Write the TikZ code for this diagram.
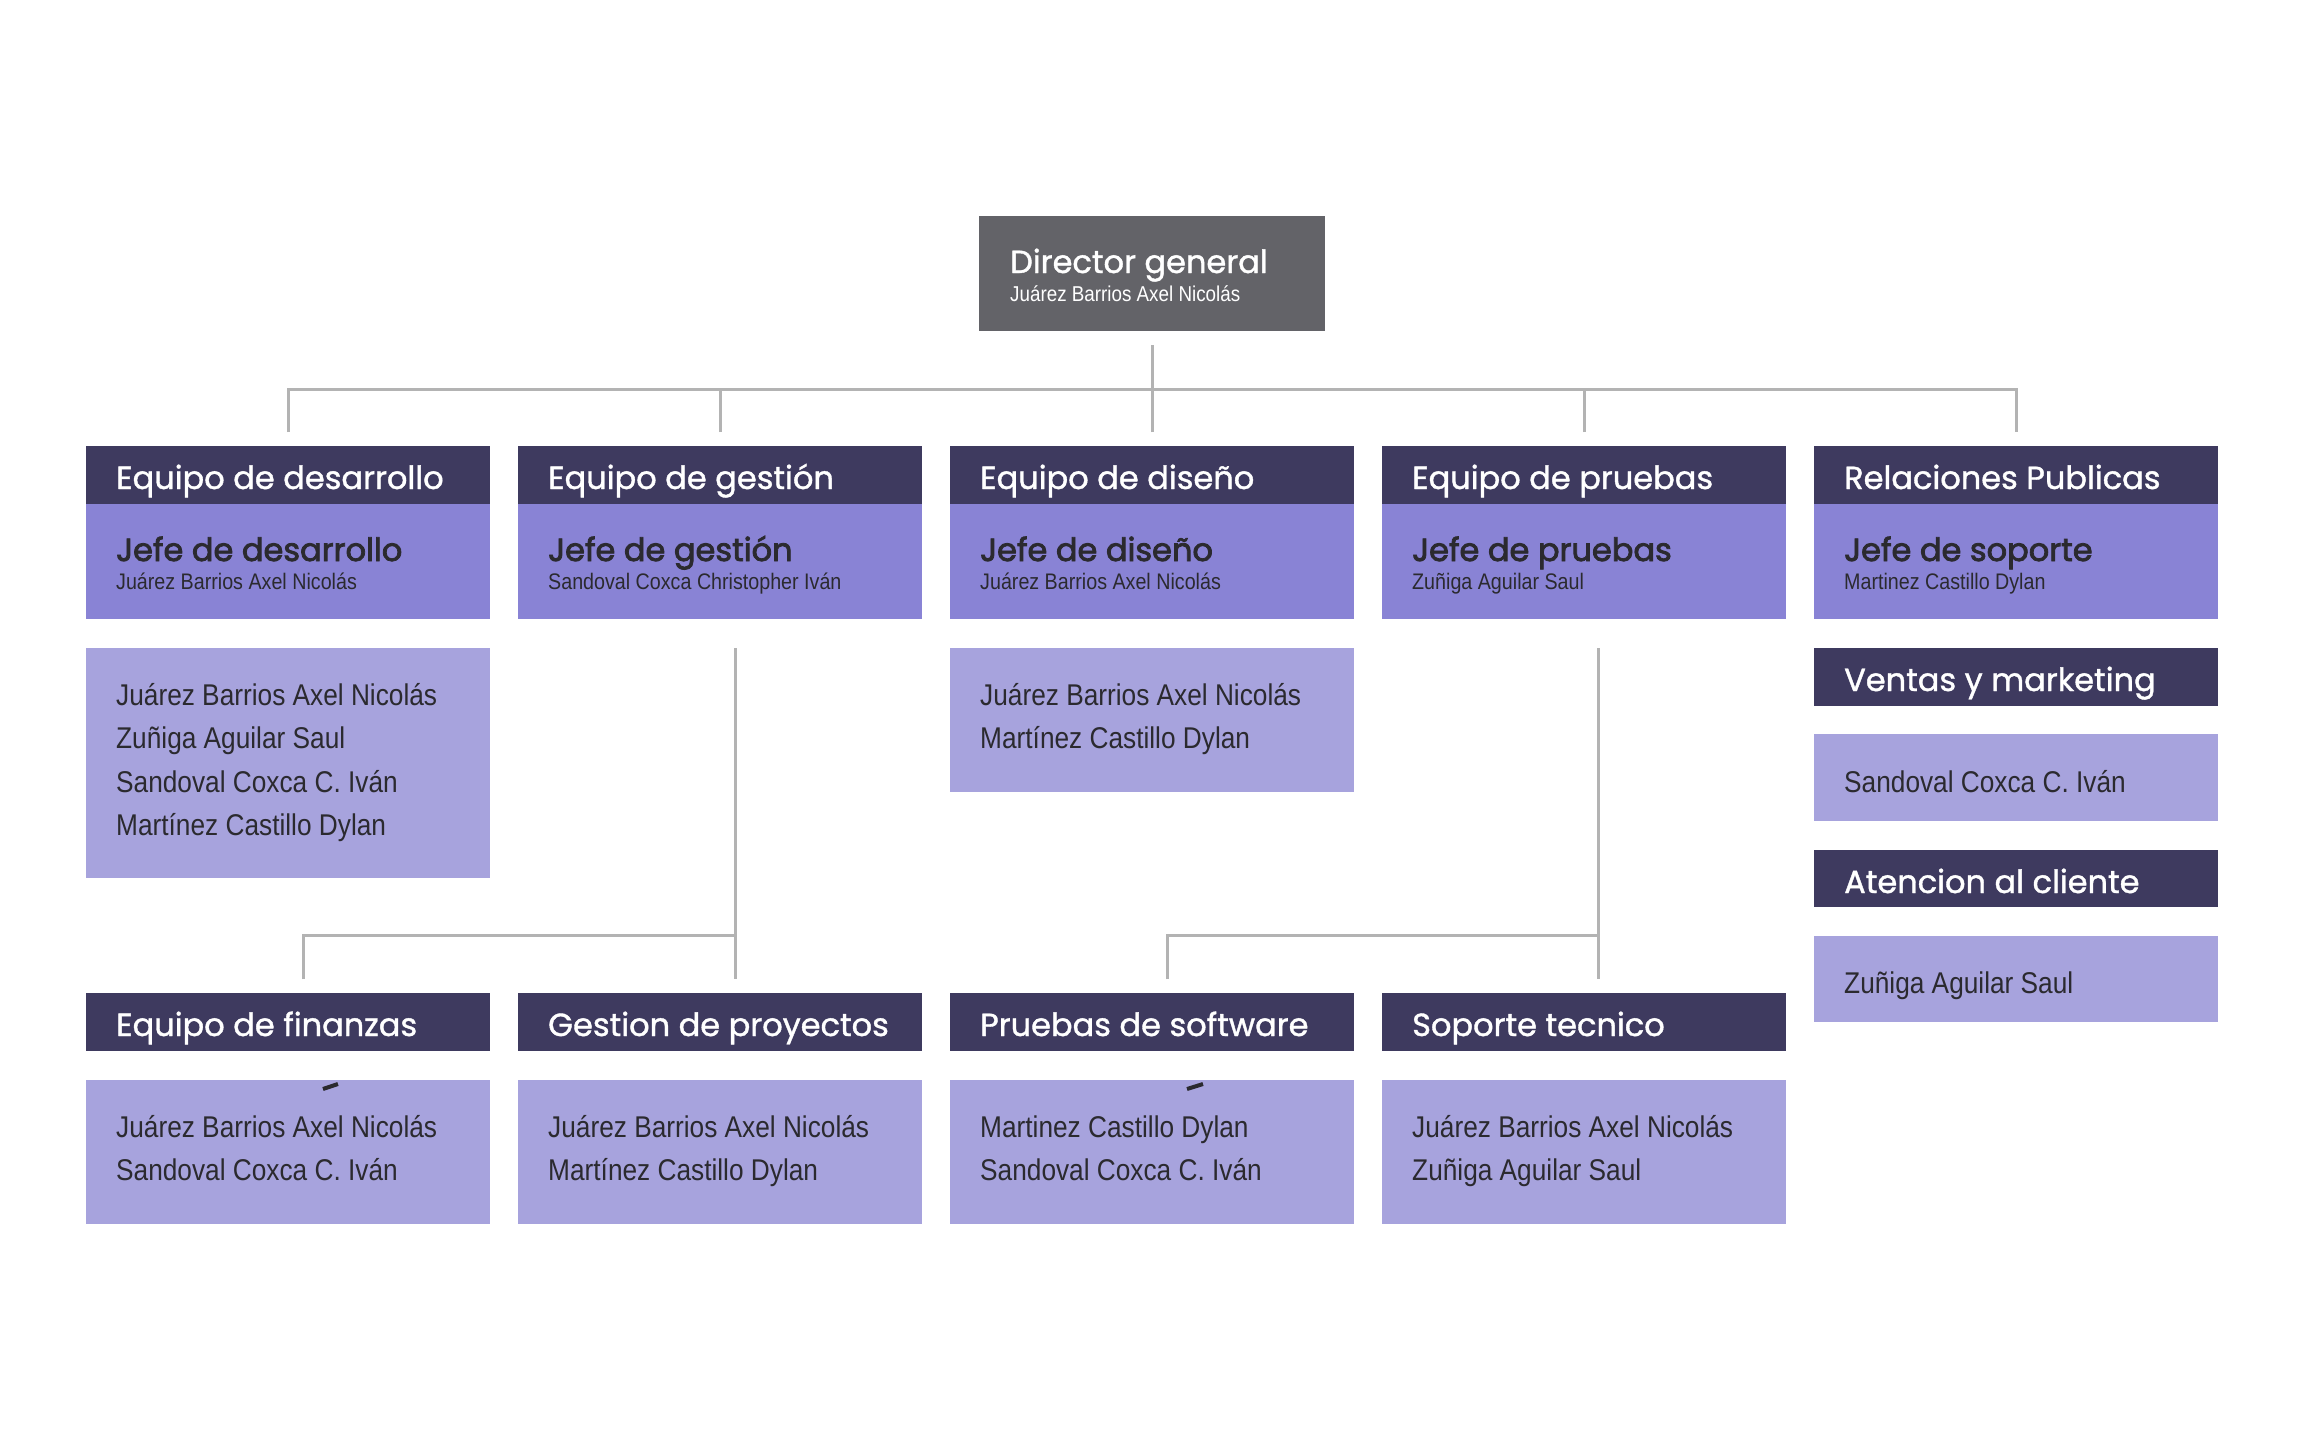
\documentclass[tikz,border=0pt]{standalone}
\usepackage{fontspec}
\setmainfont{Liberation Sans}
\newfontfamily\hfont[FakeBold=1.2]{Poppins}
\newfontfamily\jfont[FakeBold=2.5]{Poppins}
\newfontfamily\nfont[FakeStretch=0.875]{Liberation Sans}
\definecolor{dirgray}{HTML}{636368}
\definecolor{hdark}{HTML}{3E3A5F}
\definecolor{jefec}{HTML}{8983D5}
\definecolor{membc}{HTML}{A7A3DD}
\definecolor{linec}{HTML}{B3B3B3}
\definecolor{txtc}{HTML}{2B2A2F}
\begin{document}
\begin{tikzpicture}[x=1pt,y=-1pt,
 box/.style={rectangle, inner sep=0pt, outer sep=0pt, anchor=north west, minimum width=404pt},
 hd/.style={box, fill=hdark, minimum height=58pt},
 jf/.style={box, fill=jefec, minimum height=115pt},
 mb/.style={box, fill=membc},
 ht/.style={anchor=base west, inner sep=0pt, text=white, font=\hfont\fontsize{32}{38}\selectfont},
 jt/.style={anchor=base west, inner sep=0pt, text=txtc, font=\jfont\fontsize{32}{38}\selectfont},
 st/.style={anchor=base west, inner sep=0pt, text=txtc, font=\nfont\fontsize{22.5}{26}\selectfont},
 mt/.style={anchor=base west, inner sep=0pt, text=txtc, font=\nfont\fontsize{30}{43.5}\selectfont},
 conn/.style={draw=linec, line width=3pt},
 straymark/.style={draw=txtc, line width=4pt},
]
\useasboundingbox[fill=white] (0,0) rectangle (2304,1440);

% director
\node[box, fill=dirgray, minimum width=346pt, minimum height=115pt] (dir) at (979,216) {};
\node[ht] (dirt) at (1010,273) {Director general};
\node[st, text=white, font=\nfont\fontsize{21.5}{24}\selectfont] (dirn) at (1010,301) {Juárez Barrios Axel Nicolás};

% top headers and jefe boxes
\foreach \i/\x/\h/\j/\n in {1/86/Equipo de desarrollo/Jefe de desarrollo/Juárez Barrios Axel Nicolás,
  2/518/Equipo de gestión/Jefe de gestión/Sandoval Coxca Christopher Iván,
  3/950/Equipo de diseño/Jefe de diseño/Juárez Barrios Axel Nicolás,
  4/1382/Equipo de pruebas/Jefe de pruebas/Zuñiga Aguilar Saul,
  5/1814/Relaciones Publicas/Jefe de soporte/Martinez Castillo Dylan}{
  \node[hd] (h\i) at (\x,446) {};
  \node[jf] (j\i) at (\x,504) {};
  \node[ht] (ht\i) at (\x+30,489) {\h};
  \node[jt] (jt\i) at (\x+30,561) {\j};
  \node[st] (jn\i) at (\x+30,589) {\n};
}

% member boxes
\node[mb, minimum height=230pt] (m1) at (86,648) {};
\foreach \t [count=\k] in {Juárez Barrios Axel Nicolás, Zuñiga Aguilar Saul, Sandoval Coxca C. Iván, Martínez Castillo Dylan}
  \node[mt] (m1t\k) at (116,705+43.5*\k-43.5) {\t};
\node[mb, minimum height=144pt] (m3) at (950,648) {};
\foreach \t [count=\k] in {Juárez Barrios Axel Nicolás, Martínez Castillo Dylan}
  \node[mt] (m3t\k) at (980,705+43.5*\k-43.5) {\t};

% column 5 stack
\node[hd] (v5) at (1814,648) {};
\node[ht] (v5t) at (1844,691) {Ventas y marketing};
\node[mb, minimum height=87pt] (v5m) at (1814,734) {};
\node[mt] (v5mt) at (1844,792) {Sandoval Coxca C. Iván};
\node[hd, minimum height=57pt] (a5) at (1814,850) {};
\node[ht] (a5t) at (1844,893) {Atencion al cliente};
\node[mb, minimum height=86pt] (a5m) at (1814,936) {};
\node[mt] (a5mt) at (1844,993) {Zuñiga Aguilar Saul};

% bottom row
\foreach \i/\x/\h/\a/\b in {1/86/Equipo de finanzas/Juárez Barrios Axel Nicolás/Sandoval Coxca C. Iván,
  2/518/Gestion de proyectos/Juárez Barrios Axel Nicolás/Martínez Castillo Dylan,
  3/950/Pruebas de software/Martinez Castillo Dylan/Sandoval Coxca C. Iván,
  4/1382/Soporte tecnico/Juárez Barrios Axel Nicolás/Zuñiga Aguilar Saul}{
  \node[hd] (b\i) at (\x,993) {};
  \node[ht] (bt\i) at (\x+30,1036) {\h};
  \node[mb, minimum height=144pt] (bm\i) at (\x,1080) {};
  \node[mt] (bma\i) at (\x+30,1137) {\a};
  \node[mt] (bmb\i) at (\x+30,1180.5) {\b};
}

% stray accent marks
\draw[straymark] (323,1089) -- (338,1084);
\draw[straymark] (1187,1089) -- (1203,1084);

% connectors
\coordinate (bus) at (1152,389);
\draw[conn] ([yshift=-14pt]dir.south) -- (bus);
\draw[conn] ([yshift=14pt]h1.north) |- (bus) -| ([yshift=14pt]h5.north);
\foreach \i in {2,3,4} \draw[conn] ([yshift=14pt]h\i.north) -- (h\i.north |- bus);

\coordinate (g2top) at (735,648);
\coordinate (g2j) at (735,935);
\draw[conn] (g2top) -- ([xshift=15pt,yshift=14pt]b2.north);
\draw[conn] ([xshift=15pt,yshift=14pt]b1.north) |- (g2j);

\coordinate (g4top) at (1598,648);
\coordinate (g4j) at (1598,935);
\draw[conn] (g4top) -- ([xshift=14pt,yshift=14pt]b4.north);
\draw[conn] ([xshift=15pt,yshift=14pt]b3.north) |- (g4j);
\end{tikzpicture}
\end{document}
